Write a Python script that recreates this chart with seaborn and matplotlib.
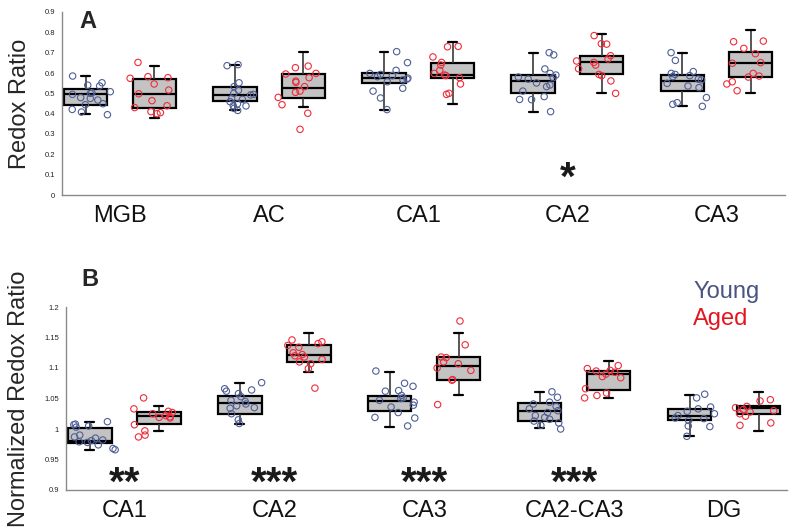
import numpy as np
import pandas as pd
import seaborn as sns
import matplotlib.pyplot as plt
from matplotlib.ticker import FuncFormatter

# ---- panel A: raw redox ratio ----
regions_a = ["MGB", "AC", "CA1", "CA2", "CA3"]
# box summary per region: [whisker low, q1, median, q3, whisker high]
young_a_box = [[0.397, 0.444, 0.495, 0.520, 0.585],
               [0.416, 0.464, 0.492, 0.533, 0.641],
               [0.420, 0.549, 0.575, 0.602, 0.703],
               [0.408, 0.503, 0.562, 0.590, 0.698],
               [0.438, 0.513, 0.561, 0.590, 0.697]]
aged_a_box = [[0.380, 0.426, 0.495, 0.569, 0.636],
              [0.433, 0.479, 0.526, 0.595, 0.705],
              [0.448, 0.577, 0.592, 0.648, 0.751],
              [0.500, 0.595, 0.654, 0.685, 0.792],
              [0.502, 0.579, 0.648, 0.705, 0.813]]
young_a_pts = [[0.585, 0.552, 0.540, 0.536, 0.508, 0.503, 0.500, 0.495, 0.479, 0.475, 0.467, 0.449, 0.444, 0.421, 0.408, 0.395],
               [0.641, 0.636, 0.552, 0.533, 0.515, 0.500, 0.495, 0.492, 0.475, 0.470, 0.459, 0.448, 0.439, 0.438, 0.426, 0.416],
               [0.705, 0.651, 0.613, 0.598, 0.593, 0.587, 0.582, 0.575, 0.570, 0.566, 0.557, 0.525, 0.511, 0.477, 0.420],
               [0.700, 0.689, 0.620, 0.598, 0.590, 0.580, 0.577, 0.570, 0.551, 0.541, 0.533, 0.511, 0.484, 0.470, 0.469, 0.410],
               [0.700, 0.662, 0.607, 0.598, 0.593, 0.587, 0.582, 0.570, 0.566, 0.549, 0.536, 0.528, 0.479, 0.454, 0.446, 0.436]]
aged_a_pts = [[0.652, 0.582, 0.577, 0.574, 0.546, 0.516, 0.498, 0.464, 0.439, 0.430, 0.410, 0.405, 0.400],
              [0.634, 0.626, 0.598, 0.595, 0.577, 0.560, 0.554, 0.533, 0.511, 0.505, 0.480, 0.444, 0.402, 0.323],
              [0.731, 0.729, 0.679, 0.652, 0.639, 0.613, 0.598, 0.590, 0.587, 0.577, 0.546, 0.500, 0.495],
              [0.784, 0.744, 0.742, 0.685, 0.669, 0.659, 0.652, 0.639, 0.621, 0.593, 0.587, 0.561, 0.500],
              [0.757, 0.754, 0.721, 0.695, 0.651, 0.648, 0.598, 0.585, 0.580, 0.557, 0.546, 0.513]]
stars_a = ["", "", "", "*", ""]

# ---- panel B: normalized redox ratio ----
regions_b = ["CA1", "CA2", "CA3", "CA2-CA3", "DG"]
young_b_box = [[0.966, 0.977, 0.981, 1.002, 1.012],
               [1.009, 1.025, 1.042, 1.054, 1.075],
               [1.004, 1.030, 1.046, 1.054, 1.094],
               [1.001, 1.013, 1.030, 1.043, 1.061],
               [0.988, 1.014, 1.021, 1.033, 1.056]]
aged_b_box = [[0.996, 1.008, 1.021, 1.028, 1.037],
              [1.093, 1.110, 1.122, 1.137, 1.157],
              [1.056, 1.081, 1.103, 1.118, 1.158],
              [1.051, 1.064, 1.090, 1.095, 1.111],
              [0.997, 1.024, 1.034, 1.037, 1.061]]
young_b_pts = [[1.012, 1.008, 1.007, 1.005, 1.003, 0.990, 0.987, 0.985, 0.982, 0.981, 0.979, 0.978, 0.974, 0.968, 0.966],
               [1.076, 1.066, 1.064, 1.062, 1.058, 1.053, 1.047, 1.045, 1.041, 1.038, 1.035, 1.034, 1.025, 1.015, 1.009],
               [1.095, 1.075, 1.070, 1.063, 1.062, 1.055, 1.051, 1.050, 1.047, 1.044, 1.039, 1.036, 1.027, 1.019, 1.018, 1.005],
               [1.061, 1.052, 1.044, 1.041, 1.037, 1.033, 1.030, 1.027, 1.022, 1.019, 1.016, 1.013, 1.010, 1.006, 1.000],
               [1.057, 1.051, 1.036, 1.033, 1.029, 1.025, 1.022, 1.018, 1.017, 1.014, 1.005, 1.004, 0.988]]
aged_b_pts = [[1.051, 1.033, 1.029, 1.027, 1.025, 1.022, 1.020, 1.019, 1.018, 1.007, 0.997, 0.990, 0.987],
              [1.146, 1.143, 1.140, 1.137, 1.134, 1.125, 1.122, 1.120, 1.118, 1.114, 1.110, 1.107, 1.099, 1.067],
              [1.177, 1.138, 1.118, 1.117, 1.110, 1.107, 1.100, 1.096, 1.081, 1.080, 1.040],
              [1.104, 1.099, 1.096, 1.095, 1.093, 1.090, 1.086, 1.084, 1.066, 1.059, 1.055, 1.051],
              [1.048, 1.046, 1.037, 1.035, 1.032, 1.030, 1.028, 1.025, 1.021, 1.010, 1.006]]
stars_b = ["**", "***", "***", "***", ""]

young_col = "#4f5f96"
aged_col = "#ee2d3a"
box_grey = "#c3c3c3"
spine_col = "#8a8a8a"
groups = ["Young", "Aged"]

sns.set_style("white")
plt.rcParams["font.family"] = ["Liberation Sans", "DejaVu Sans"]
np.random.seed(7)


def long_frame(regions, young, aged):
    rows = []
    for reg, y, a in zip(regions, young, aged):
        rows += [(reg, "Young", v) for v in y]
        rows += [(reg, "Aged", v) for v in a]
    return pd.DataFrame(rows, columns=["Region", "Group", "Value"])


def draw_panel(ax, regions, ybox, abox, ypts, apts, stars, star_y, ylabel, ylim, yticks, xlim):
    box_df = long_frame(regions, ybox, abox)
    pts_df = long_frame(regions, ypts, apts)
    sns.boxplot(data=box_df, x="Region", y="Value", hue="Group", order=regions,
                hue_order=groups, palette={"Young": box_grey, "Aged": box_grey},
                saturation=1, whis=(0, 100), width=0.92, gap=0.37, linewidth=1.6,
                linecolor="black", showfliers=False, legend=False, ax=ax,
                whiskerprops={"color": "#3a3a3a", "linewidth": 1.2},
                capwidths=0.06)
    sns.stripplot(data=pts_df, x="Region", y="Value", hue="Group", order=regions,
                  hue_order=groups, palette={"Young": young_col, "Aged": aged_col},
                  dodge=True, jitter=0.28, size=4.6, legend=False, ax=ax, zorder=3)
    # hollow circles
    for coll in ax.collections:
        fc = coll.get_facecolors()
        coll.set_edgecolors(fc)
        coll.set_facecolors("none")
        coll.set_linewidth(0.8)

    for i, s in enumerate(stars):
        if s:
            ax.text(i, star_y, s, ha="center", va="center", fontsize=29,
                    fontweight="bold", color="#1a1a1a")

    ax.set_xlim(*xlim)
    ax.set_ylim(*ylim)
    ax.set_yticks(yticks)
    ax.yaxis.set_major_formatter(FuncFormatter(lambda v, p: f"{v:g}"))
    ax.set_xlabel("")
    ax.set_ylabel(ylabel, fontsize=17, labelpad=10)
    sns.despine(ax=ax)
    for side in ["left", "bottom"]:
        ax.spines[side].set_color(spine_col)
        ax.spines[side].set_linewidth(1.0)
    ax.tick_params(axis="x", which="major", length=0, labelsize=17, pad=7, colors="#111111")
    ax.set_xticks([0.5, 1.5, 2.5, 3.5], minor=True)
    ax.tick_params(axis="x", which="minor", length=7, width=1.3, color="#333333")
    ax.tick_params(axis="y", length=3, width=0.8, labelsize=5.5, color=spine_col, pad=2,
                   labelcolor="#222222")


fig = plt.figure(figsize=(7.95, 5.32), dpi=100)
ax_a = fig.add_axes([62 / 795, 1 - 195 / 532, 723 / 795, 183 / 532])
ax_b = fig.add_axes([66 / 795, 1 - 490 / 532, 721 / 795, 183 / 532])

draw_panel(ax_a, regions_a, young_a_box, aged_a_box, young_a_pts, aged_a_pts, stars_a, 0.08,
           "Redox Ratio", (0, 0.9), np.arange(0, 0.91, 0.1), (-0.39, 4.46))
draw_panel(ax_b, regions_b, young_b_box, aged_b_box, young_b_pts, aged_b_pts, stars_b, 0.91,
           "Normalized Redox Ratio", (0.9, 1.2), [0.9, 0.95, 1.0, 1.05, 1.1, 1.15, 1.2], (-0.39, 4.42))

fig.text(88 / 795, 1 - 21 / 532, "A", fontsize=17, fontweight="bold", ha="center", va="center")
fig.text(90 / 795, 1 - 279 / 532, "B", fontsize=17, fontweight="bold", ha="center", va="center")
fig.text(693 / 795, 1 - 298 / 532, "Young", fontsize=17, color="#4a5482", ha="left", va="baseline")
fig.text(693 / 795, 1 - 325 / 532, "Aged", fontsize=17, color="#e3161f", ha="left", va="baseline")

fig.savefig("out.png", dpi=100, facecolor="white")
